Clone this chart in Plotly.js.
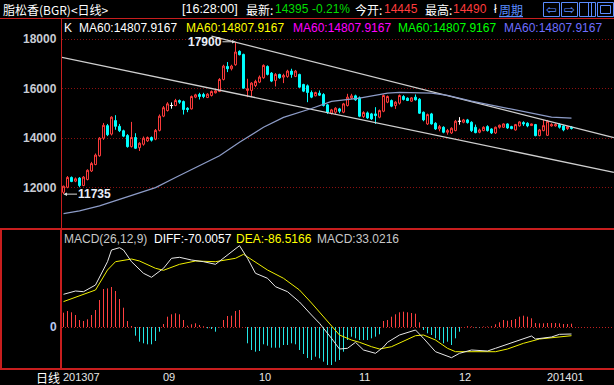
<!DOCTYPE html>
<html><head><meta charset="utf-8">
<script src="https://cdn.plot.ly/plotly-3.0.1.min.js"></script>
<style>html,body{margin:0;padding:0;background:#000;overflow:hidden}#chart{width:614px;height:385px}</style>
</head><body><div id="chart"></div>
<script>
// ---------- data ----------
const opens = [11808,12014,12411,12260,12384,12082,12329,12671,12932,13288,
14000,14507,14164,14712,14480,14300,14110,13657,14027,13616,
13753,13890,14027,13959,14315,14890,15117,15320,15320,15524,
15482,15212,15185,15659,15767,15767,15645,15727,15835,15889,
16376,16904,16809,16971,17513,17390,15930,15930,16132,16268,
16443,16903,16633,16335,16579,16470,16497,16714,16497,16579,
16173,16119,15848,15713,15821,15767,15347,15009,15050,15185,
15050,15320,15632,15713,15632,14874,15023,14982,14982,14847,
15090,15456,15523,15320,15415,15686,15618,15496,15658,15577,
15050,14576,14982,14603,14373,14441,14238,14211,14306,14684,
14644,14738,14644,14440,14238,14305,14468,14373,14211,14441,
14441,14576,14468,14332,14495,14630,14603,14509,14549,14102,
14305,14116,14495,14495,14549,14495,14387,14445];
const highs = [12080,12466,12450,12410,12425,12466,12740,13040,13380,14041,
14616,14575,14886,14930,14575,14343,14164,14658,14200,13835,
14068,14068,14068,14370,14960,15300,15455,15440,15590,15564,
15523,15253,15726,15794,15835,15835,15820,15930,15960,16430,
16971,17080,16971,17900,17553,17418,16403,16268,16362,16538,
16985,16944,16674,16633,16606,16606,16768,16809,16760,16606,
16200,16173,15930,15880,15930,15821,15388,15185,15253,15226,
15428,15794,15794,15760,15686,15090,15077,15023,15253,15158,
15767,15726,15564,15496,15767,15740,15650,15660,15767,15618,
15077,14995,15023,14644,14535,14482,14373,14441,14738,14847,
14779,14779,14684,14549,14387,14480,14522,14400,14468,14549,
14600,14603,14500,14576,14684,14684,14644,14590,14576,14373,
14738,14738,14603,14603,14603,14535,14480,14490];
const lows = [11735,11973,12219,12219,12014,12055,12290,12630,12905,13247,
13930,14082,14110,14340,14246,14041,13616,13620,13560,13480,
13698,13850,13863,13918,14273,14850,15077,15200,15293,15388,
14955,15050,15158,15618,15564,15618,15620,15686,15810,15862,
16335,16674,16740,16930,17350,15997,15659,15659,16065,16227,
16403,16538,16268,16092,16403,16227,16443,16443,16470,16038,
15862,15456,15618,15690,15713,15280,14982,14955,14982,15009,
15009,15280,15577,15510,14847,14820,14779,14738,14576,14806,
15050,15415,15253,15185,15360,15523,15500,15470,15523,14982,
14684,14535,14549,14332,14278,14197,14143,14170,14278,14549,
14603,14590,14251,14197,14197,14280,14265,14170,14170,14387,
14420,14373,14360,14305,14468,14495,14441,14495,14075,14075,
14278,14089,14468,14468,14387,14278,14332,14350];
const closes = [12055,12411,12246,12356,12082,12425,12700,12972,13315,14000,
14520,14137,14850,14479,14300,14082,13657,14027,13590,13795,
14000,14027,13918,14315,14890,15233,15388,15320,15524,15455,
15158,15158,15686,15753,15686,15686,15780,15889,15916,16376,
16917,16809,16917,17485,17377,16024,15997,16227,16295,16471,
16944,16579,16308,16579,16443,16538,16714,16579,16714,16065,
15902,15848,15659,15848,15740,15320,15050,15144,15212,15090,
15388,15659,15713,15550,14887,15037,14820,14779,14914,15117,
15726,15686,15293,15456,15726,15564,15523,15631,15550,15009,
14738,14955,14576,14373,14468,14238,14306,14400,14684,14684,
14738,14630,14305,14224,14332,14440,14305,14211,14441,14522,
14576,14414,14387,14549,14657,14576,14495,14576,14102,14332,
14508,14684,14549,14549,14441,14332,14468,14395];

const maIdx = [0,4,9,17,23,28,34,39,44,50,55,62,67,74,81,84,92,96,102,109,117,122,127];
const maVal = [10950,11060,11260,11670,12000,12410,12880,13290,13830,14440,14840,15200,15490,15620,15820,15850,15820,15730,15500,15280,15010,14850,14808];

const upperIdx = [37, 137.6];
const upperVal = [18129, 14023];
const lowerIdx = [-0.4, 137.6];
const lowerVal = [17272, 12619];

const macdHist = [143,160,147,120,70,60,77,120,170,270,
380,386,400,360,280,193,60,10,-87,-147,
-163,-173,-173,-140,-47,30,103,127,137,127,
70,13,27,37,20,7,-13,-20,-47,-3,
70,110,113,160,170,0,-163,-230,-247,-240,
-173,-187,-207,-207,-207,-180,-180,-163,-173,-230,
-270,-310,-330,-297,-313,-347,-380,-380,-347,-330,
-247,-130,-97,-113,-130,-130,-130,-113,-97,-73,
60,70,103,127,147,153,147,140,133,47,
-30,-63,-80,-113,-130,-163,-147,-180,-113,-47,
0,8,6,-5,-5,5,5,8,27,47,
70,63,70,80,103,113,103,87,40,37,
37,40,40,40,37,30,30,33];

const diffIdx = [0,3,5,8,11,12,14,15,17,20,22,25,27,29,32,35,38,40,42,44,46,48,51,53,56,59,62,64,67,69,71,73,75,78,80,81,84,88,90,93,97,99,102,106,108,111,113,117,118,122,124,127];
const diffVal = [327,360,353,420,653,770,793,770,653,537,497,587,687,697,670,653,627,687,753,813,687,537,487,403,353,250,120,37,-113,-220,-213,-153,-230,-263,-200,-153,-80,-30,-113,-247,-307,-263,-230,-240,-213,-173,-140,-90,-120,-100,-73,-70];
const deaIdx = [0,4,8,11,13,17,19,23,25,29,33,38,43,45,48,51,55,58,59,62,66,69,72,74,77,79,82,84,88,90,93,96,98,101,108,111,115,119,123,127];
const deaVal = [254,314,370,570,653,680,660,587,567,627,660,653,687,727,647,570,487,394,370,240,53,-80,-130,-153,-197,-220,-197,-163,-87,-80,-130,-213,-247,-247,-247,-220,-163,-120,-107,-87];

const yTicks = [12000,14000,16000,18000];
const monthIdx = [0,25,49,74,99,121];
const monthText = ['201307','09','10','11','12','201401'];

// ---------- drawing ----------
const W=614,H=385;
const px = x => x/W, py = y => 1 - y/H;
const LAT = 'Liberation Sans, Arial, sans-serif';
const CJK = 'Noto Sans CJK SC, sans-serif';
const RED = '#ff3c3c', CYAN = '#00ffff', BORDER = '#c81e1e';
const idx = opens.map((_, i) => i);

const traces = [];
traces.push({type:'scatter',mode:'lines',x:upperIdx,y:upperVal,line:{color:'#cfcfcf',width:1.3},hoverinfo:'skip',xaxis:'x',yaxis:'y'});
traces.push({type:'scatter',mode:'lines',x:lowerIdx,y:lowerVal,line:{color:'#cfcfcf',width:1.3},hoverinfo:'skip',xaxis:'x',yaxis:'y'});
traces.push({type:'scatter',mode:'lines',x:maIdx,y:maVal,line:{color:'#8d9cc8',width:1.2},hoverinfo:'skip',xaxis:'x',yaxis:'y'});
traces.push({type:'candlestick',x:idx,open:opens,high:highs,low:lows,close:closes,
  increasing:{line:{color:RED,width:1},fillcolor:'#000000'},
  decreasing:{line:{color:CYAN,width:1},fillcolor:CYAN},
  whiskerwidth:0,hoverinfo:'skip',xaxis:'x',yaxis:'y'});
// doji (open == close) candles drawn white
const dx=[],dy=[];
idx.forEach(i=>{ if(opens[i]===closes[i]){ dx.push(i,i,null,i-0.4,i+0.4,null); dy.push(lows[i],highs[i],null,closes[i],closes[i],null);} });
traces.push({type:'scatter',mode:'lines',x:dx,y:dy,line:{color:'#ffffff',width:1},hoverinfo:'skip',xaxis:'x',yaxis:'y'});

// MACD histogram as 1px vertical sticks
const posX=[],posY=[],negX=[],negY=[];
macdHist.forEach((v,i)=>{ if(v>=0){posX.push(i,i,null);posY.push(0,v,null);} else {negX.push(i,i,null);negY.push(0,v,null);} });
traces.push({type:'scatter',mode:'lines',x:posX,y:posY,line:{color:'#ff4040',width:1},hoverinfo:'skip',xaxis:'x2',yaxis:'y2'});
traces.push({type:'scatter',mode:'lines',x:negX,y:negY,line:{color:'#22e6e6',width:1},hoverinfo:'skip',xaxis:'x2',yaxis:'y2'});
traces.push({type:'scatter',mode:'lines',x:deaIdx,y:deaVal,line:{color:'#f0f000',width:1},hoverinfo:'skip',xaxis:'x2',yaxis:'y2'});
traces.push({type:'scatter',mode:'lines',x:diffIdx,y:diffVal,line:{color:'#e8e8e8',width:1},hoverinfo:'skip',xaxis:'x2',yaxis:'y2'});

function label(x,y,text,color,size,family,anchor,extra){
  return Object.assign({xref:'paper',yref:'paper',x:px(x),y:py(y),text:text,showarrow:false,
    xanchor:anchor||'left',yanchor:'middle',borderpad:0,font:{color:color,size:size||12,family:family||LAT}},extra||{});
}
const ann = [];
// header
ann.push(label(2,9,'脂松香(BGR)<日线>','#ffffff',12,CJK));
ann.push(label(181,9,'[16:28:00]','#ffffff',12.5,LAT));
ann.push(label(245,9,'最新:','#ffffff',12,CJK));
ann.push(label(274,9,'14395','#00dc00',12,LAT));
ann.push(label(311,9,'-0.21%','#00dc00',12,LAT));
ann.push(label(354,9,'今开:','#ffffff',12,CJK));
ann.push(label(383,9,'14445',RED,12,LAT));
ann.push(label(424,9,'最高:','#ffffff',12,CJK));
ann.push(label(452,9,'14490',RED,12,LAT));
ann.push(label(493,9,'ł','#ffffff',12,LAT));
ann.push(label(498,9,'<u>周期</u>','#5a8cff',12,CJK));
ann.push(label(551,9,'⇦','#5a8cff',13,'DejaVu Sans','center'));
ann.push(label(569,9,'⇨','#5a8cff',13,'DejaVu Sans','center'));
// legend row
ann.push(label(63,28,'K','#ffffff'));
const maColors = ['#ffffff','#ffff00','#ff00ff','#00ff00','#6e6eff'];
const maX = [78,185,292,397,503];
maColors.forEach((c,k)=>ann.push(label(maX[k],28,'MA60:14807.9167',c)));
// MACD legend
ann.push(label(63,239,'MACD(26,12,9)','#c8c8c8'));
ann.push(label(153,239,'DIFF:-70.0057','#ffffff'));
ann.push(label(235,239,'DEA:-86.5166','#ffff00'));
ann.push(label(316,239,'MACD:33.0216','#c8c8c8'));
// y tick labels
yTicks.forEach(v=>ann.push({xref:'paper',yref:'y',x:px(58),y:v,text:String(v),showarrow:false,xanchor:'right',yanchor:'middle',borderpad:0,font:{color:'#c8ccd4',size:12,family:LAT,weight:'bold'}}));
ann.push({xref:'paper',yref:'y2',x:px(58),y:0,text:'0',showarrow:false,xanchor:'right',yanchor:'middle',borderpad:0,font:{color:'#b8c8f0',size:12,family:LAT,weight:'bold'}});
// bottom axis
ann.push(label(35,377,'日线','#ffffff',12,CJK));
monthIdx.forEach((m,k)=>ann.push({xref:'x2',yref:'paper',x:m,y:py(377),xshift:-1.5,text:monthText[k],showarrow:false,xanchor:'left',yanchor:'middle',borderpad:0,font:{color:'#e6e6e6',size:11,family:LAT}}));
// high / low markers
ann.push({xref:'x',yref:'y',x:43,y:Math.max(...highs),text:String(Math.max(...highs)),showarrow:true,ax:-30.5,ay:0,arrowhead:2,arrowsize:0.7,arrowwidth:1,arrowcolor:'#d8d8d8',borderpad:0,font:{color:'#e8eef8',size:12,family:LAT,weight:'bold'}});
ann.push({xref:'x',yref:'y',x:0,y:Math.min(...lows),text:String(Math.min(...lows)),showarrow:true,ax:30.5,ay:0,arrowhead:2,arrowsize:0.7,arrowwidth:1,arrowcolor:'#d8d8d8',borderpad:0,font:{color:'#e8eef8',size:12,family:LAT,weight:'bold'}});

function hline(y,x0,x1,w){return {type:'line',xref:'paper',yref:'paper',x0:px(x0),x1:px(x1),y0:py(y),y1:py(y),line:{color:BORDER,width:w}};}
function vline(x,y0,y1,w,c){return {type:'line',xref:'paper',yref:'paper',x0:px(x),x1:px(x),y0:py(y0),y1:py(y1),line:{color:c||BORDER,width:w}};}
function rect(x0,y0,x1,y1,c,w){return {type:'rect',xref:'paper',yref:'paper',x0:px(x0),x1:px(x1),y0:py(y0),y1:py(y1),line:{color:c,width:w}};}
const shapes = [
  hline(18.5,0,614,1),
  hline(229,62,614,2),
  hline(369,62,614,2),
  vline(61.5,18,369,1),
  rect(1,229,61,369,BORDER,2),
  rect(543.5,2.5,559.5,16.5,'#5a8cff',1),
  rect(561.5,2.5,577.5,16.5,'#5a8cff',1),
  rect(579.5,2.5,595.5,16.5,'#5a8cff',1),
  vline(588.5,2.5,16.5,1,'#5a8cff'),
  vline(591.5,2.5,16.5,1,'#5a8cff'),
  rect(597.5,2.5,613.5,16.5,'#5a8cff',1),
  rect(600.5,5.5,610.5,13.5,'#5a8cff',1)
];

const layout = {
  width:W,height:H,margin:{l:0,r:0,t:0,b:0,pad:0},
  paper_bgcolor:'#000',plot_bgcolor:'#000',showlegend:false,
  xaxis:{domain:[62/W,1],range:[-0.375,137.625],showgrid:false,zeroline:false,showticklabels:false,showline:false,ticks:'',rangeslider:{visible:false},fixedrange:true},
  yaxis:{domain:[py(228),py(18)],range:[10365,18862],tickvals:yTicks,showgrid:true,gridcolor:'#8b1010',griddash:'1px,2px',gridwidth:1,zeroline:false,showticklabels:false,ticks:'',fixedrange:true},
  xaxis2:{domain:[62/W,1],range:[-0.375,137.625],anchor:'y2',matches:'x',showgrid:false,zeroline:false,showticklabels:false,showline:false,ticks:'',fixedrange:true},
  yaxis2:{domain:[py(368),py(229)],range:[-410,980],tickvals:[0],showgrid:true,gridcolor:'#c02020',griddash:'1px,2px',gridwidth:1,zeroline:false,showticklabels:false,ticks:'',fixedrange:true},
  annotations:ann,shapes:shapes
};
Plotly.newPlot('chart',traces,layout,{staticPlot:true,displayModeBar:false});
</script>
</body></html>
